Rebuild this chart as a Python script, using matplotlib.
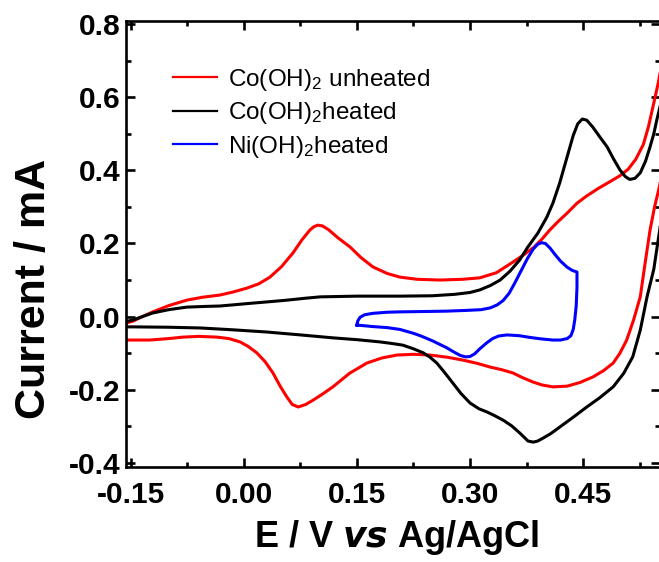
import matplotlib
matplotlib.use("Agg")
import matplotlib.pyplot as plt
from matplotlib.ticker import MultipleLocator, FormatStrFormatter
from matplotlib.lines import Line2D

plt.rcParams['font.family'] = ['Liberation Sans', 'DejaVu Sans']
plt.rcParams['mathtext.fontset'] = 'custom'
plt.rcParams['mathtext.rm'] = 'Liberation Sans'
plt.rcParams['mathtext.it'] = 'Liberation Sans:italic'
plt.rcParams['mathtext.bf'] = 'Liberation Sans:bold'

# ---- data (E / V vs Ag/AgCl, Current / mA) ----
red_up_x = [-0.16, -0.147, -0.135, -0.121, -0.1, -0.076, -0.055, -0.032, -0.015, 0.004,
            0.02, 0.0345, 0.05, 0.065, 0.077, 0.0876, 0.093, 0.098, 0.104, 0.112, 0.125,
            0.141, 0.155, 0.171, 0.19, 0.207, 0.23, 0.26, 0.29, 0.313, 0.335, 0.357,
            0.372, 0.385, 0.396, 0.406, 0.417, 0.429, 0.442, 0.455, 0.47, 0.485, 0.499,
            0.51, 0.52, 0.53, 0.537, 0.543, 0.55, 0.56]
red_up_y = [-0.02, -0.012, 0.0, 0.013, 0.03, 0.045, 0.053, 0.059, 0.067, 0.078,
            0.09, 0.108, 0.137, 0.174, 0.21, 0.237, 0.246, 0.25, 0.248, 0.238, 0.215,
            0.19, 0.162, 0.136, 0.118, 0.108, 0.102, 0.1, 0.102, 0.106, 0.12, 0.149,
            0.17, 0.19, 0.213, 0.237, 0.26, 0.283, 0.31, 0.33, 0.35, 0.368, 0.385,
            0.403, 0.43, 0.47, 0.52, 0.575, 0.64, 0.75]

red_dn_x = [0.56, 0.552, 0.545, 0.539, 0.532, 0.526, 0.517, 0.508, 0.499, 0.49, 0.477,
            0.463, 0.446, 0.429, 0.41, 0.396, 0.384, 0.37, 0.357, 0.342, 0.327, 0.31,
            0.291, 0.27, 0.247, 0.225, 0.203, 0.183, 0.163, 0.14, 0.118, 0.104, 0.092,
            0.082, 0.072, 0.064, 0.057, 0.048, 0.0385, 0.028, 0.017, 0.006, -0.0053,
            -0.02, -0.036, -0.06, -0.081, -0.1, -0.125, -0.145, -0.16]
red_dn_y = [0.5, 0.36, 0.3, 0.237, 0.14, 0.054, -0.01, -0.064, -0.1, -0.127, -0.148,
            -0.165, -0.18, -0.19, -0.192, -0.187, -0.179, -0.167, -0.154, -0.145, -0.138, -0.128,
            -0.119, -0.111, -0.105, -0.103, -0.105, -0.113, -0.127, -0.155, -0.192, -0.212, -0.228,
            -0.24, -0.247, -0.24, -0.22, -0.19, -0.154, -0.123, -0.099, -0.082, -0.069,
            -0.06, -0.056, -0.054, -0.056, -0.06, -0.064, -0.064, -0.064]

blk_up_x = [-0.16, -0.147, -0.135, -0.121, -0.1, -0.076, -0.05, -0.032, -0.01, 0.012,
            0.035, 0.057, 0.08, 0.101, 0.15, 0.207, 0.25, 0.28, 0.3, 0.313, 0.327, 0.34,
            0.353, 0.366, 0.376, 0.39, 0.402, 0.41, 0.419, 0.428, 0.437, 0.443, 0.449,
            0.455, 0.463, 0.472, 0.482, 0.49, 0.499, 0.506, 0.512, 0.519, 0.526, 0.533,
            0.539, 0.544, 0.548, 0.56]
blk_up_y = [-0.015, -0.009, 0.0, 0.01, 0.019, 0.026, 0.028, 0.029, 0.033, 0.037,
            0.041, 0.045, 0.05, 0.054, 0.056, 0.056, 0.057, 0.061, 0.066, 0.073, 0.085, 0.1,
            0.124, 0.155, 0.188, 0.228, 0.272, 0.31, 0.365, 0.43, 0.495, 0.527, 0.54,
            0.537, 0.518, 0.492, 0.464, 0.433, 0.401, 0.383, 0.375, 0.378, 0.393, 0.425,
            0.464, 0.5, 0.538, 0.64]

blk_dn_x = [0.56, 0.552, 0.544, 0.535, 0.526, 0.516, 0.504, 0.49, 0.472, 0.455, 0.437,
            0.419, 0.407, 0.397, 0.39, 0.384, 0.377, 0.366, 0.355, 0.344, 0.333, 0.323,
            0.312, 0.3, 0.288, 0.277, 0.266, 0.256, 0.247, 0.238, 0.225, 0.211, 0.195,
            0.18, 0.15, 0.118, 0.075, 0.03, -0.015, -0.058, -0.1, -0.147, -0.16]
blk_dn_y = [0.4, 0.24, 0.13, 0.054, -0.037, -0.11, -0.155, -0.192, -0.222, -0.247, -0.275,
            -0.302, -0.32, -0.332, -0.34, -0.343, -0.34, -0.318, -0.298, -0.283, -0.271, -0.261,
            -0.252, -0.236, -0.21, -0.181, -0.152, -0.127, -0.111, -0.099, -0.088, -0.078, -0.073,
            -0.069, -0.063, -0.058, -0.05, -0.042, -0.036, -0.031, -0.029, -0.028, -0.028]

blue_x = [0.15, 0.151, 0.154, 0.16, 0.171, 0.19, 0.207, 0.24, 0.269, 0.295, 0.315, 0.327,
          0.336, 0.344, 0.352, 0.36, 0.368, 0.376, 0.384, 0.39, 0.395, 0.4, 0.406, 0.412,
          0.42, 0.429, 0.436, 0.442, 0.442, 0.441, 0.439, 0.437, 0.434, 0.429, 0.42, 0.41,
          0.395, 0.38, 0.365, 0.349, 0.338, 0.33, 0.322, 0.313, 0.306, 0.3, 0.294, 0.287,
          0.278, 0.269, 0.25, 0.235, 0.224, 0.207, 0.19, 0.17, 0.155, 0.15]
blue_y = [-0.023, -0.012, -0.002, 0.005, 0.009, 0.012, 0.013, 0.014, 0.015, 0.017, 0.019, 0.024,
          0.032, 0.044, 0.064, 0.094, 0.126, 0.158, 0.185, 0.198, 0.202, 0.2, 0.188, 0.172,
          0.152, 0.135, 0.126, 0.122, 0.08, 0.03, -0.01, -0.035, -0.052, -0.06, -0.064, -0.064,
          -0.061, -0.057, -0.052, -0.05, -0.053, -0.06, -0.072, -0.088, -0.102, -0.109, -0.11, -0.106,
          -0.096, -0.085, -0.066, -0.053, -0.045, -0.035, -0.03, -0.027, -0.024, -0.023]

labels = ["Co(OH)$_2$ unheated", "Co(OH)$_2$heated", "Ni(OH)$_2$heated"]
colors = ["#ff0000", "#000000", "#0000ff"]
x_ticks = [-0.15, 0.00, 0.15, 0.30, 0.45]
y_ticks = [-0.4, -0.2, 0.0, 0.2, 0.4, 0.6, 0.8]

W, H = 659, 562
fig = plt.figure(figsize=(W / 100, H / 100), dpi=100)
ax = fig.add_axes([126 / W, (H - 467) / H, 534 / W, 446 / H])

lw = 2.2
ax.plot(red_up_x, red_up_y, color=colors[0], lw=lw, solid_joinstyle='round')
ax.plot(red_dn_x, red_dn_y, color=colors[0], lw=lw, solid_joinstyle='round')
ax.plot(blk_up_x, blk_up_y, color=colors[1], lw=lw, solid_joinstyle='round')
ax.plot(blk_dn_x, blk_dn_y, color=colors[1], lw=lw, solid_joinstyle='round')
ax.plot(blue_x, blue_y, color=colors[2], lw=lw, solid_joinstyle='round')

ax.set_xlim(-0.1566, 0.5522)
ax.set_ylim(-0.411, 0.808)
ax.set_xticks(x_ticks)
ax.set_yticks(y_ticks)
ax.xaxis.set_minor_locator(MultipleLocator(0.075))
ax.yaxis.set_minor_locator(MultipleLocator(0.1))
ax.xaxis.set_major_formatter(FormatStrFormatter('%.2f'))
ax.yaxis.set_major_formatter(FormatStrFormatter('%.1f'))

for s in ax.spines.values():
    s.set_linewidth(1.9)
ax.tick_params(which='both', direction='in', top=True, right=True, width=1.9)
ax.tick_params(which='major', length=6.5)
ax.tick_params(which='minor', length=3.6)
ax.tick_params(axis='x', which='major', pad=10)
ax.tick_params(axis='y', which='major', pad=4)
for t in ax.get_xticklabels() + ax.get_yticklabels():
    t.set_fontsize(21.5)
    t.set_fontweight('bold')

ax.set_xlabel(r"E / V $\mathbfit{vs}$ Ag/AgCl", fontsize=26, fontweight='bold')
ax.set_ylabel("Current / mA", fontsize=31, fontweight='bold')
ax.xaxis.set_label_coords(0.507, -0.114)
ax.yaxis.set_label_coords(-0.135, 0.40)

handles = [Line2D([], [], color=c, lw=1.6) for c in colors]
ax.legend(handles, labels, loc='upper left', bbox_to_anchor=(0.088, 0.897),
          frameon=False, fontsize=17.5, handlelength=1.8, handletextpad=0.45,
          labelspacing=0.3, borderpad=0, borderaxespad=0)

fig.savefig("out.png", dpi=100)
